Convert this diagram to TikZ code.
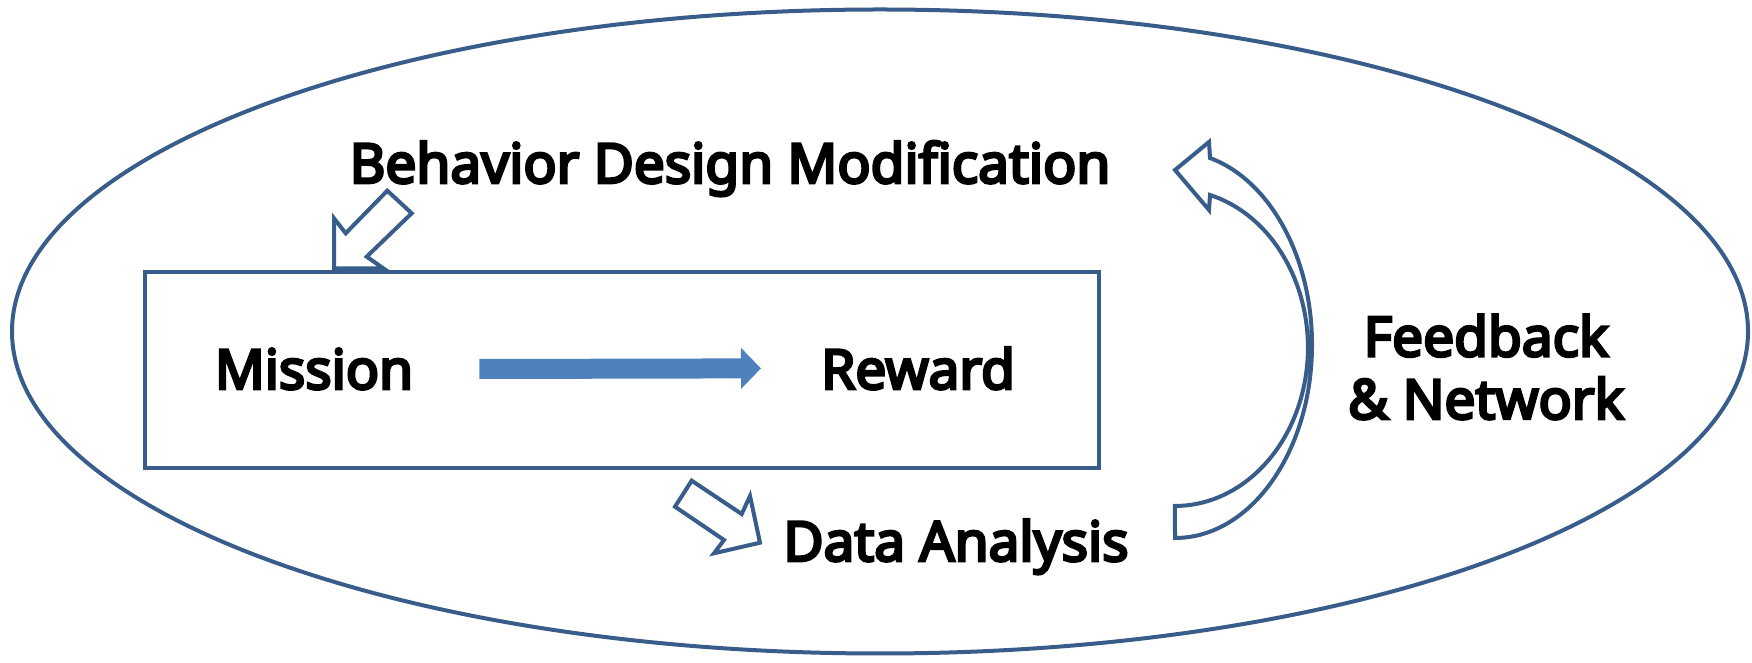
\documentclass[tikz,border=0pt]{standalone}
\usepackage{fontspec}
\setmainfont{Noto Sans}[AutoFakeBold=5]
\definecolor{frameBlue}{RGB}{56,93,138}
\definecolor{flowBlue}{RGB}{79,129,189}
\usetikzlibrary{arrows.meta,positioning,calc}

\begin{document}
\begin{tikzpicture}[x=1pt,y=1pt,
    labeltext/.style={font=\fontsize{55}{62.6}\selectfont\bfseries, inner sep=0pt},
    outline/.style={draw=frameBlue, line width=4pt},
    hollowarrow/.style={outline, fill=white, line join=miter},
    flow/.style={draw=flowBlue, line width=20pt,
      -{Triangle[length=20pt,width=40pt,fill=flowBlue]}}]
  \useasboundingbox (0,0) rectangle (1752,663);
  % Outer loop
  \draw[outline] (880,331.5) ellipse [x radius=868, y radius=322];
  % Inner box
  \node[outline, minimum width=954pt, minimum height=196pt, inner sep=0pt]
    (box) at (622,293) {};
  \node[labeltext, anchor=base] (mission) at (314,274) {Mission};
  \node[labeltext, anchor=base] (reward) at (918,274) {Reward};
  \draw[flow] ([xshift=66pt]mission.east) -- ([xshift=-60pt]reward.west);
  % Labels round the box
  \node[labeltext, anchor=base] (behavior) at (730,480) {Behavior Design Modification};
  \node[labeltext, anchor=base] (analysis) at (956,102) {Data Analysis};
  \node[labeltext, align=center] (feedback) at (1486,296) {Feedback\\\& Network};
  % Block arrows
  \draw[hollowarrow] (334,394.7) -- (334,444.7) -- (345.7,429.7) -- (387.3,472.3)
    -- (411.7,449.7) -- (366.7,406.3) -- (383.3,394.7) -- cycle;
  \draw[hollowarrow] (691.7,182.3) -- (675,156.3) -- (724,123) -- (714,109.7)
    -- (760,120.3) -- (750,167) -- (741.7,149) -- cycle;
  % Curved feedback arrow
  \draw[hollowarrow] (1175,125)
    arc[start angle=-90, end angle=75.2, x radius=137, y radius=193.2]
    -- (1209,521) -- (1175,493) -- (1209,453) -- (1210,468)
    arc[start angle=74.7, end angle=-90, x radius=133, y radius=158.3]
    -- cycle;
\end{tikzpicture}
\end{document}
